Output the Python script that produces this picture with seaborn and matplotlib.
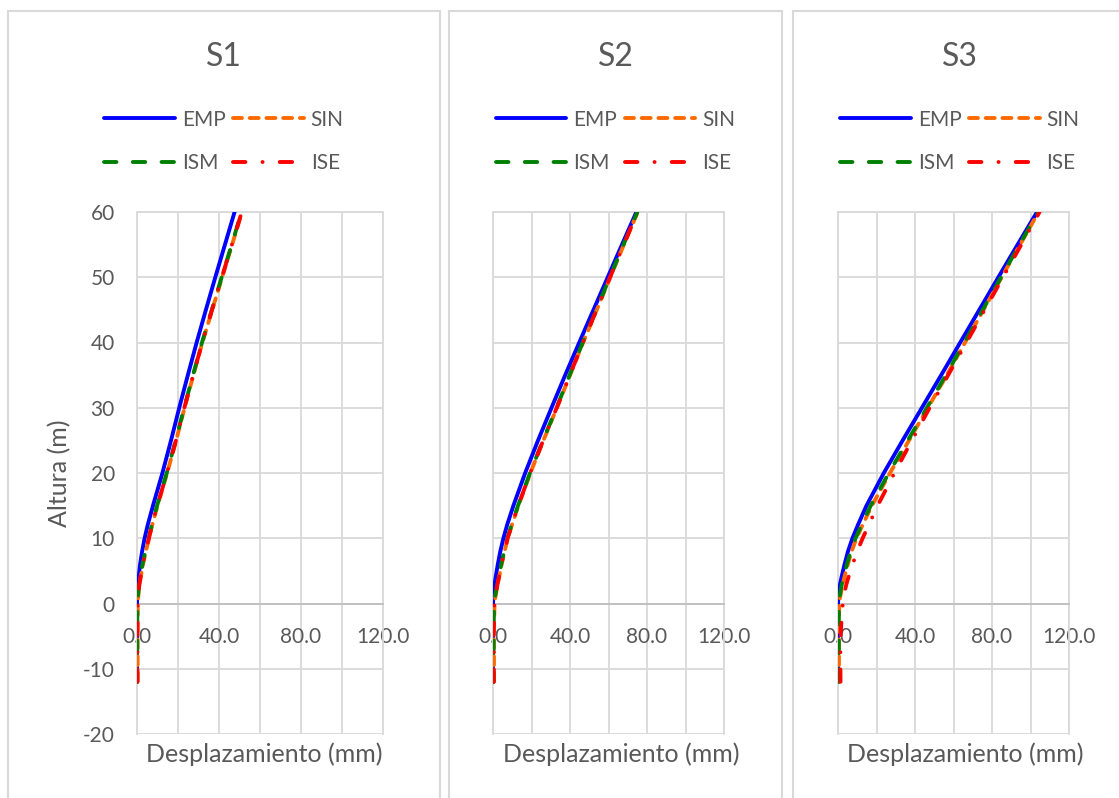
import matplotlib
matplotlib.use("Agg")
import matplotlib.pyplot as plt
from matplotlib.patches import Rectangle
import seaborn as sns

# ---------------------------------------------------------------------------
# Data: lateral displacement profiles (mm) versus height (m)
# ---------------------------------------------------------------------------
HEIGHTS = [-12, -8, -4, 0, 1, 2, 3, 4, 6, 8, 10, 12, 15, 20, 25, 30, 35, 40, 45, 50, 55, 60]

SERIES = ["EMP", "SIN", "ISM", "ISE"]
PANELS = ["S1", "S2", "S3"]

S1_EMP = [0.0, 0.0, 0.0, 0.0, 0.1, 0.3, 0.5, 0.8, 1.5, 2.5, 3.7, 5.2, 7.8, 12.4, 16.6, 20.6, 24.8, 29.1, 33.6, 38.2, 42.9, 47.6]
S1_SIN = [0.3, 0.3, 0.3, 0.4, 0.6, 0.9, 1.3, 1.8, 2.9, 4.3, 5.9, 7.4, 10.0, 14.7, 19.1, 23.2, 27.5, 31.9, 36.7, 41.5, 46.4, 51.2]
S1_ISM = [0.1, 0.1, 0.1, 0.2, 0.4, 0.7, 1.1, 1.6, 2.7, 4.1, 5.7, 7.2, 9.8, 14.5, 18.9, 23.0, 27.3, 31.7, 36.5, 41.3, 46.2, 51.0]
S1_ISE = [0.2, 0.2, 0.2, 0.3, 0.5, 0.8, 1.2, 1.7, 2.8, 4.2, 5.8, 7.3, 9.9, 14.6, 19.0, 23.1, 27.4, 31.8, 36.6, 41.4, 46.3, 51.1]

S2_EMP = [0.0, 0.0, 0.0, 0.0, 0.15, 0.45, 0.85, 1.35, 2.5, 3.8, 5.4, 7.3, 10.6, 16.7, 23.4, 30.4, 37.5, 44.8, 52.2, 59.6, 67.0, 74.5]
S2_SIN = [0.5, 0.5, 0.5, 0.8, 1.25, 1.85, 2.45, 3.15, 4.5, 6.0, 7.7, 9.8, 13.2, 19.4, 26.2, 33.2, 40.0, 46.8, 53.9, 60.9, 68.0, 75.2]
S2_ISM = [0.3, 0.3, 0.3, 0.6, 1.05, 1.65, 2.25, 2.95, 4.3, 5.8, 7.5, 9.6, 13.0, 19.2, 26.0, 33.0, 39.8, 46.6, 53.7, 60.7, 67.8, 75.0]
S2_ISE = [0.4, 0.4, 0.4, 0.7, 1.15, 1.75, 2.35, 3.05, 4.4, 5.9, 7.6, 9.7, 13.1, 19.3, 26.1, 33.1, 39.9, 46.7, 53.8, 60.8, 67.9, 75.1]

S3_EMP = [0.0, 0.0, 0.0, 0.0, 0.2, 0.6, 1.1, 1.8, 3.4, 5.2, 7.5, 10.3, 14.8, 23.8, 33.6, 43.6, 53.6, 63.5, 73.4, 83.3, 93.3, 103.4]
S3_SIN = [0.5, 0.5, 0.5, 0.6, 1.1, 1.8, 2.5, 3.3, 5.1, 7.1, 9.6, 12.7, 17.6, 27.0, 36.9, 46.7, 56.5, 66.0, 75.6, 85.0, 94.6, 104.2]
S3_ISM = [0.4, 0.4, 0.4, 0.5, 0.8, 1.4, 2.0, 2.8, 4.6, 6.6, 9.1, 12.2, 17.0, 26.4, 36.3, 46.2, 56.0, 65.6, 75.2, 84.7, 94.3, 104.0]
S3_ISE = [1.3, 1.2, 1.5, 2.5, 3.0, 3.6, 4.4, 5.4, 7.6, 10.0, 12.8, 15.9, 20.6, 29.3, 38.4, 47.6, 57.2, 66.7, 76.2, 85.7, 95.2, 104.7]

PANEL_DATA = {
    "S1": [S1_EMP, S1_SIN, S1_ISM, S1_ISE],
    "S2": [S2_EMP, S2_SIN, S2_ISM, S2_ISE],
    "S3": [S3_EMP, S3_SIN, S3_ISM, S3_ISE],
}

X_TICKS = [0, 20, 40, 60, 80, 100, 120]
X_TICK_LABELS = ["0.0", "", "40.0", "", "80.0", "", "120.0"]
Y_TICKS = [-20, -10, 0, 10, 20, 30, 40, 50, 60]

# ---------------------------------------------------------------------------
# Styling
# ---------------------------------------------------------------------------
COLORS = {"EMP": "#0000FF", "SIN": "#FF6A00", "ISM": "#008000", "ISE": "#FF0000"}
LINESTYLES = {
    "EMP": "-",
    "SIN": (0, (2.3, 2.0)),
    "ISM": (0, (3.2, 4.2)),
    "ISE": (0, (3.2, 4.4, 0.01, 4.4)),
}
LW = 2.8
TEXT = "#595959"
GRID = "#d9d9d9"

sns.set_theme(style="white")
plt.rcParams["font.family"] = ["Lato", "DejaVu Sans"]
plt.rcParams["axes.unicode_minus"] = False

W, H = 1119, 798
fig = plt.figure(figsize=(W / 100, H / 100), dpi=100)
fig.patch.set_facecolor("white")


def fx(px):
    return px / W


def fy(py):
    return 1 - py / H


# (frame left, frame right, axes left, axes right, xlabel x position)
LAYOUT = [
    (8, 440, 137, 383, 0.516),
    (449, 782, 493, 724, 0.554),
    (793, 1127, 838, 1069, 0.552),
]
AX_TOP, AX_BOTTOM = 212, 734
FRAME_TOP, FRAME_BOTTOM = 11, 810

for i, (name, (fl, fr, al, ar, xl)) in enumerate(zip(PANELS, LAYOUT)):
    # chart frame
    fig.add_artist(Rectangle((fx(fl), fy(FRAME_BOTTOM)), fx(fr) - fx(fl), fy(FRAME_TOP) - fy(FRAME_BOTTOM),
                             transform=fig.transFigure, facecolor="white", edgecolor=GRID, lw=1.5, zorder=0))
    ax = fig.add_axes([fx(al), fy(AX_BOTTOM), fx(ar) - fx(al), fy(AX_TOP) - fy(AX_BOTTOM)])

    handles = {}
    for key, vals in zip(SERIES, PANEL_DATA[name]):
        sns.lineplot(x=vals, y=HEIGHTS, sort=False, estimator=None, ax=ax,
                     color=COLORS[key], linestyle=LINESTYLES[key], lw=LW,
                     dash_capstyle="round", solid_capstyle="round", zorder=3, label=key)
        handles[key] = ax.get_lines()[-1]

    ax.set_xlim(0, 120)
    ax.set_ylim(-20, 60)
    ax.set_xticks(X_TICKS)
    ax.set_xticklabels(X_TICK_LABELS)
    ax.set_yticks(Y_TICKS)
    ax.grid(True, color=GRID, lw=1.3)
    ax.set_axisbelow(True)
    for side in ("top", "right", "left"):
        ax.spines[side].set_visible(True)
        ax.spines[side].set_color(GRID)
        ax.spines[side].set_linewidth(1.3)
    ax.spines["bottom"].set_position(("data", 0))
    ax.spines["bottom"].set_color("#bfbfbf")
    ax.spines["bottom"].set_linewidth(1.3)
    ax.tick_params(axis="both", length=0, labelsize=15, labelcolor=TEXT)
    ax.tick_params(axis="x", pad=17)
    ax.tick_params(axis="y", pad=16)

    ax.set_xlabel("Desplazamiento (mm)", fontsize=18, color=TEXT)
    ax.xaxis.set_label_coords(xl, -0.017)
    if i == 0:
        ax.set_ylabel("Altura (m)", fontsize=18, color=TEXT)
        ax.yaxis.set_label_coords(-0.268, 0.5)
    else:
        ax.set_ylabel("")
        ax.tick_params(axis="y", labelleft=False)

    cx = (fl + fr) / 2
    ax.text(fx(cx), fy(57), name, transform=fig.transFigure, ha="center", va="center",
            fontsize=23, color=TEXT)

    order = ["EMP", "ISM", "SIN", "ISE"]
    ax.legend([handles[k] for k in order], order, ncol=2, loc="center",
              bbox_to_anchor=(fx(cx), fy(141.5)), bbox_transform=fig.transFigure,
              frameon=False, fontsize=15, labelcolor=TEXT, handlelength=3.37,
              handletextpad=0.34, columnspacing=0.38, labelspacing=1.15)

fig.savefig("out.png", dpi=100, facecolor="white")
